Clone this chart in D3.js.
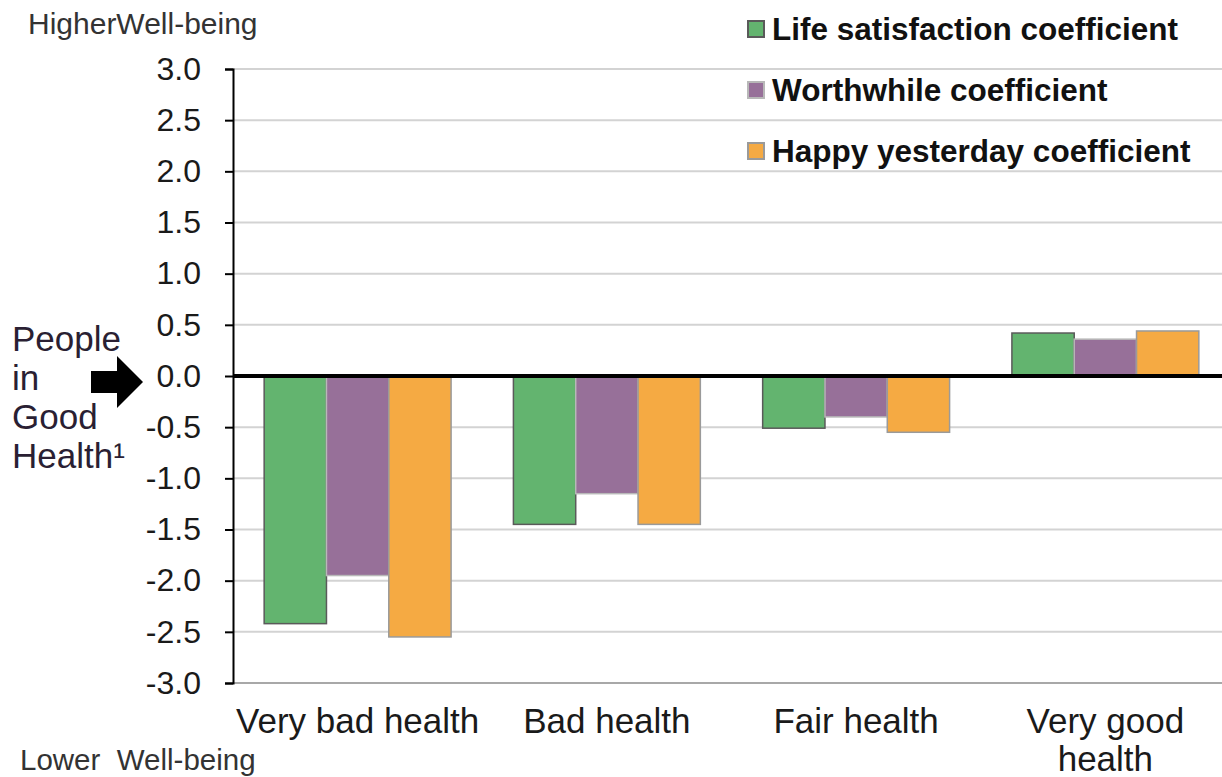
<!DOCTYPE html>
<html>
<head>
<meta charset="utf-8">
<script src="https://cdn.jsdelivr.net/npm/d3@7"></script>
<style>
  body { margin: 0; background: #fff; }
  svg text { font-family: "Liberation Sans", Arial, sans-serif; }
</style>
</head>
<body>
<svg id="chart" width="1222" height="777"></svg>
<script>
let categories = ["Very bad health", "Bad health", "Fair health", "Very good health"];
let seriesNames = ["Life satisfaction coefficient", "Worthwhile coefficient", "Happy yesterday coefficient"];
let lifeSatisfaction = [-2.42, -1.45, -0.51, 0.42];
let worthwhile = [-1.95, -1.15, -0.40, 0.36];
let happyYesterday = [-2.55, -1.45, -0.55, 0.44];
let yTicks = [3.0, 2.5, 2.0, 1.5, 1.0, 0.5, 0.0, -0.5, -1.0, -1.5, -2.0, -2.5, -3.0];

let fills = ["#63b46f", "#977099", "#f5aa43"];
let strokes = ["#5a5a5a", "#b8b8b8", "#9a9a9a"];

let svg = d3.select("#chart");
let margin = {top: 69, right: 2, bottom: 94, left: 233};
let width = 1222, height = 777;

let y = d3.scaleLinear([-3, 3], [height - margin.bottom, margin.top]);
// plot area runs a little past the right edge of the picture
let x = d3.scaleBand(categories, [margin.left, 1230]).paddingInner(0.25).paddingOuter(0.125);
let xs = d3.scaleBand(d3.range(3), [0, x.bandwidth()]);

let series = [lifeSatisfaction, worthwhile, happyYesterday];

// gridlines
svg.append("g")
    .selectAll("line")
    .data(yTicks.filter(d => d !== 0))
    .join("line")
    .attr("x1", margin.left)
    .attr("x2", width)
    .attr("y1", d => y(d))
    .attr("y2", d => y(d))
    .attr("stroke", d => d === -3 ? "#a8a8a8" : "#d3d3d3")
    .attr("stroke-width", 2);

// bars
series.forEach((values, i) =>
{
    svg.append("g")
        .selectAll("rect")
        .data(values)
        .join("rect")
        .attr("x", (d, j) => x(categories[j]) + xs(i))
        .attr("width", xs.bandwidth())
        .attr("y", d => y(Math.max(0, d)))
        .attr("height", d => Math.abs(y(d) - y(0)))
        .attr("fill", fills[i])
        .attr("stroke", strokes[i])
        .attr("stroke-width", 1.5);
});

// zero line
svg.append("line")
    .attr("x1", margin.left).attr("x2", width)
    .attr("y1", y(0)).attr("y2", y(0))
    .attr("stroke", "#000").attr("stroke-width", 4);

// y axis
let yAxis = d3.axisLeft(y).tickValues(yTicks).tickSize(8).tickSizeOuter(8).tickPadding(24);
let ga = svg.append("g").attr("transform", `translate(${margin.left},0)`).call(yAxis);
ga.select(".domain").attr("stroke-width", 2);
ga.selectAll(".tick line").attr("stroke-width", 2);
ga.selectAll(".tick text")
    .style("font-size", "32px")
    .attr("fill", "#1a1a1a")
    .text(d => d3.format(".1f")(d).replace("−", "-"));

// x labels
let xl = svg.append("g")
    .selectAll("text")
    .data(categories)
    .join("text")
    .attr("x", d => x(d) + x.bandwidth() / 2)
    .attr("y", 733)
    .attr("text-anchor", "middle")
    .style("font-size", "35px")
    .attr("fill", "#1a1a1a");
xl.each(function (d)
{
    let lines = d === "Very good health" ? ["Very good", "health"] : [d];
    d3.select(this).selectAll("tspan").data(lines).join("tspan")
        .attr("x", x(d) + x.bandwidth() / 2)
        .attr("dy", (l, k) => k === 0 ? 0 : 38)
        .text(l => l);
});

// legend
let legend = svg.append("g").attr("transform", "translate(748,0)");
seriesNames.forEach((name, i) =>
{
    let ly = 30 + i * 61;
    legend.append("rect")
        .attr("x", 0).attr("y", ly - 9).attr("width", 16).attr("height", 16)
        .attr("fill", fills[i]).attr("stroke", strokes[i]).attr("stroke-width", 2);
    legend.append("text")
        .attr("x", 24).attr("y", ly + 10)
        .style("font-size", "31.5px").style("font-weight", "bold")
        .attr("fill", "#111")
        .text(name);
});

// annotations
svg.append("text").attr("x", 28).attr("y", 34)
    .style("font-size", "30px").attr("fill", "#333").text("HigherWell-being");
svg.append("text").attr("x", 20).attr("y", 770)
    .attr("xml:space", "preserve")
    .style("font-size", "29.5px").attr("fill", "#333").text("Lower  Well-being");

let people = svg.append("text").attr("x", 12).attr("y", 351)
    .style("font-size", "35px").attr("fill", "#2a1f33");
["People", "in", "Good", "Health¹"].forEach((t, k) =>
{
    people.append("tspan").attr("x", 12).attr("dy", k === 0 ? 0 : 39).text(t);
});

// arrow
let ay = y(0) + 6;
svg.append("path")
    .attr("d", `M91,${ay - 11} L117,${ay - 11} L117,${ay - 26} L143,${ay} L117,${ay + 26} L117,${ay + 11} L91,${ay + 11} Z`)
    .attr("fill", "#000");
</script>
</body>
</html>
